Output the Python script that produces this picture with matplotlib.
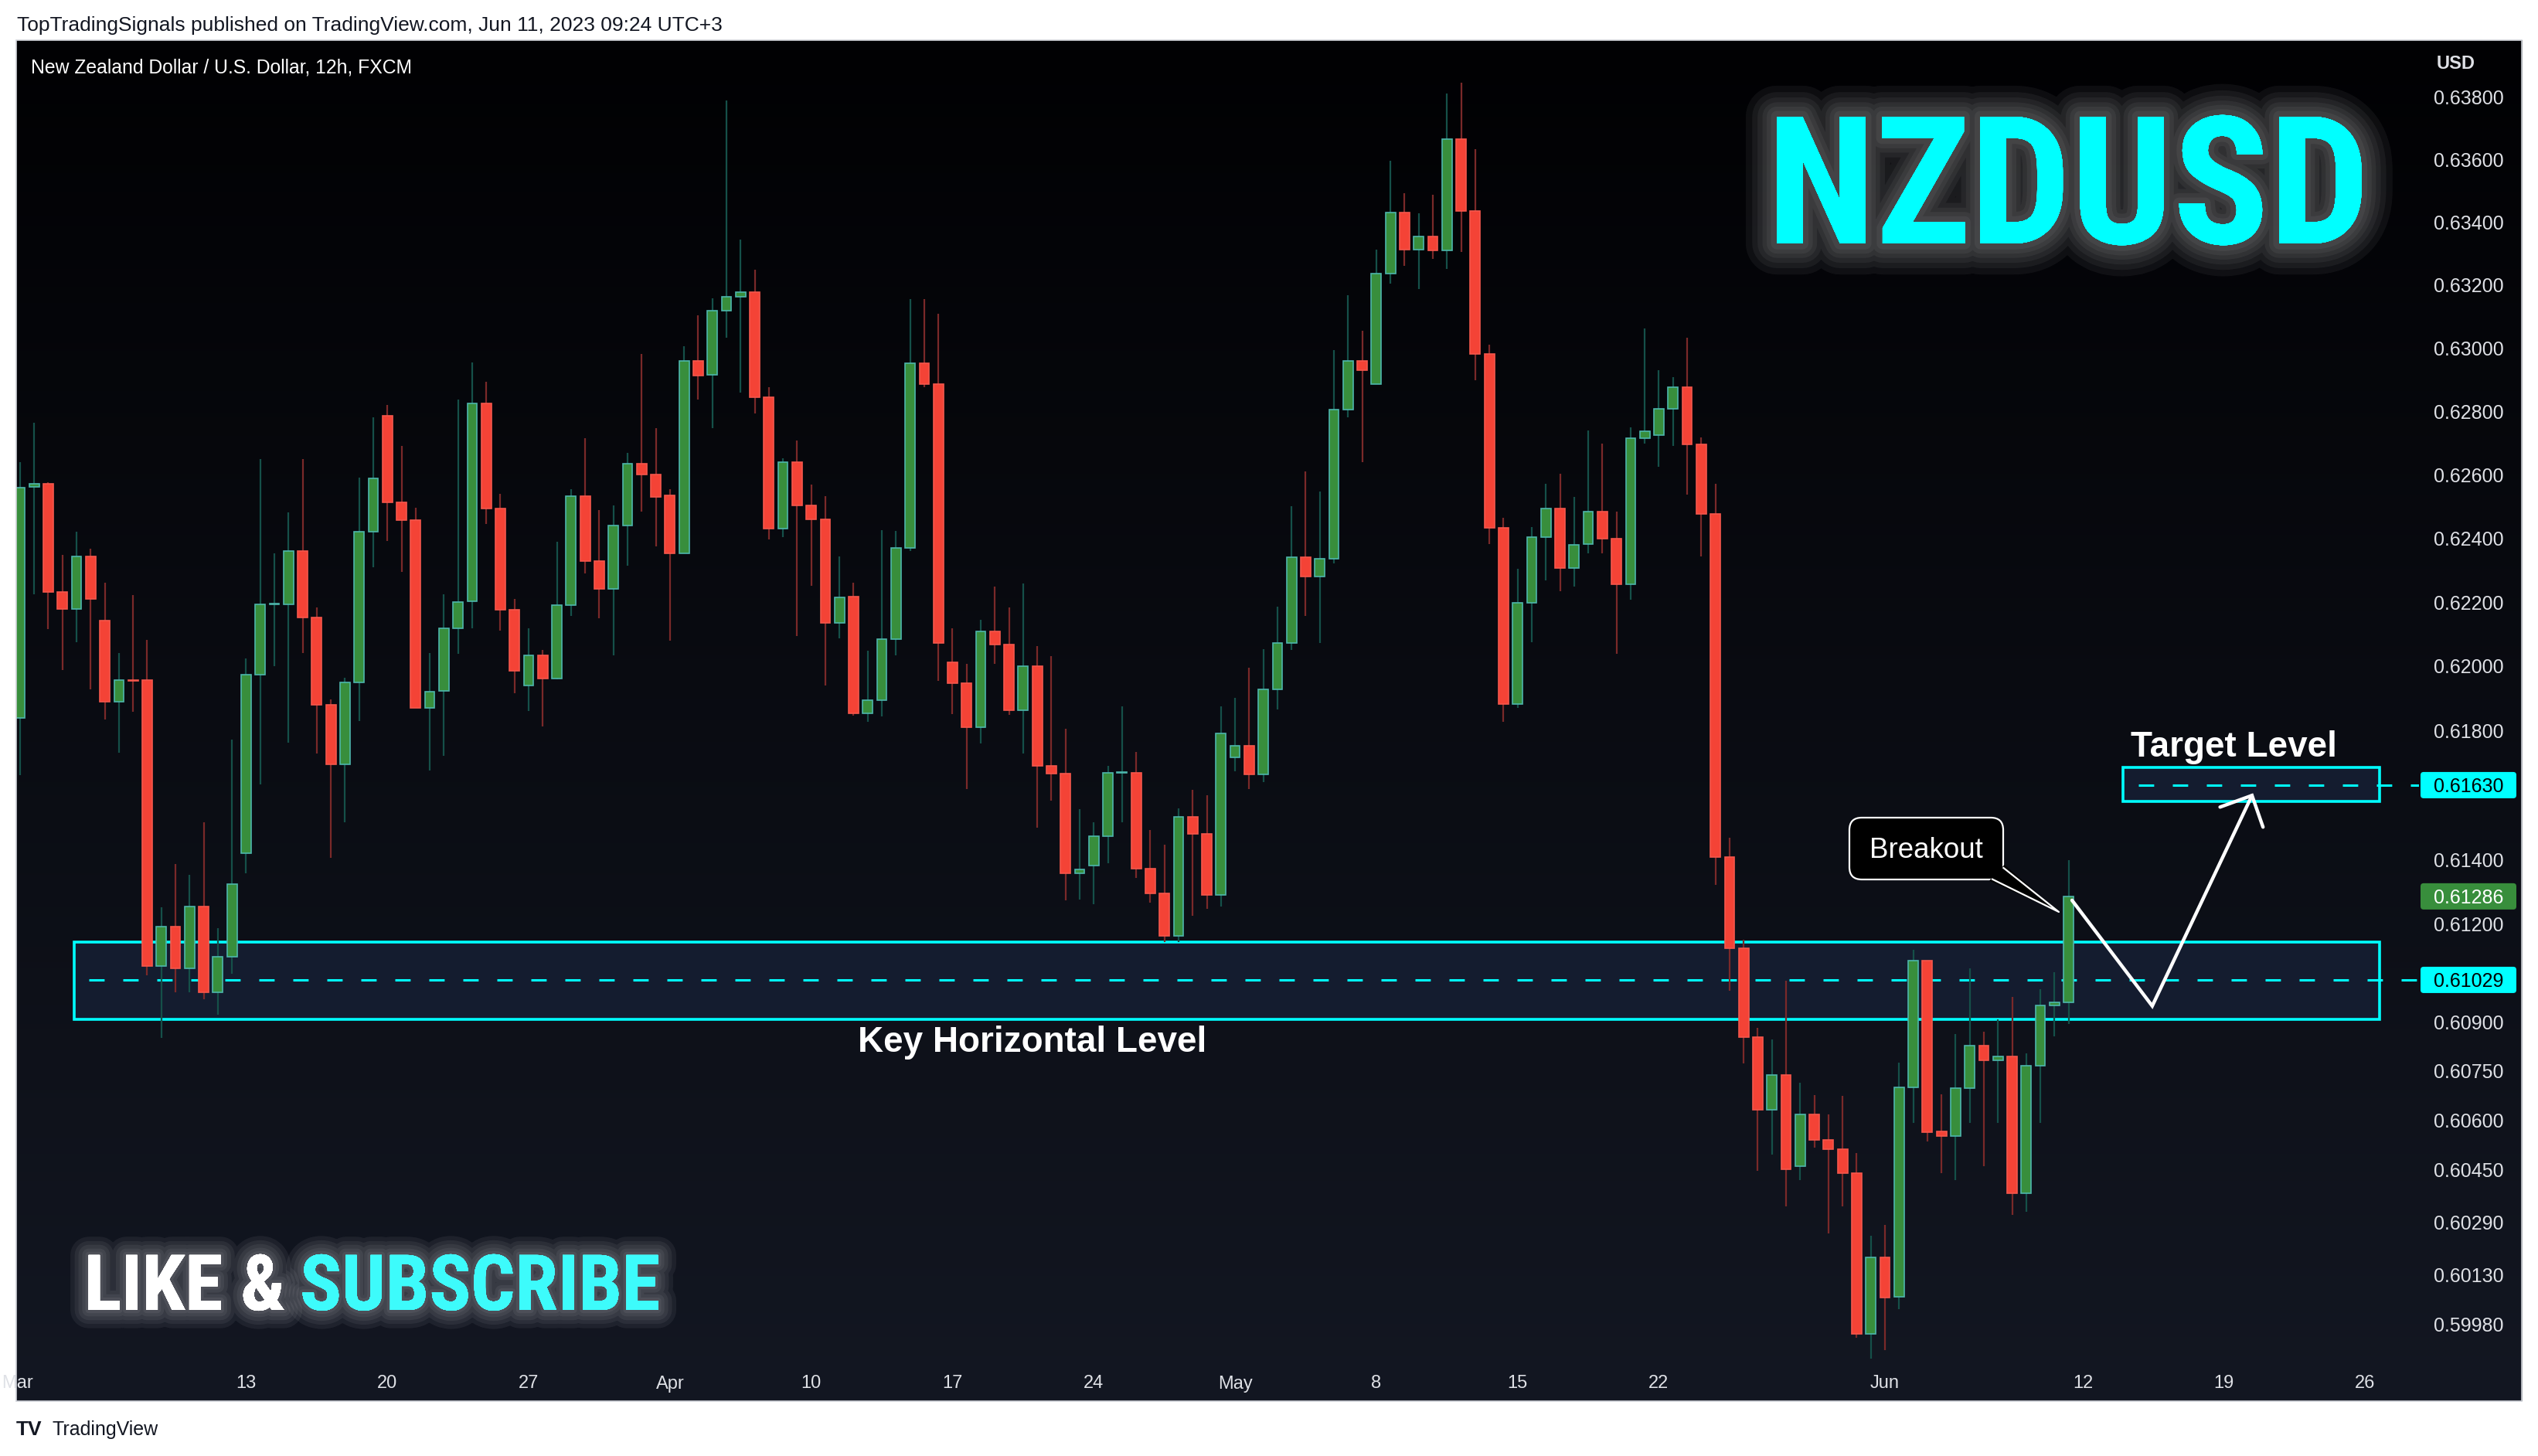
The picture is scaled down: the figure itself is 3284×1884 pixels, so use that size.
import numpy as np
import matplotlib
matplotlib.use("Agg")
import matplotlib.pyplot as plt
import matplotlib.patheffects as pe
from matplotlib import font_manager
from matplotlib.lines import Line2D
from matplotlib.patches import Rectangle, FancyBboxPatch, Polygon
from matplotlib.ticker import NullLocator
from matplotlib.transforms import IdentityTransform, blended_transform_factory

W, H = 3284, 1884

# NZDUSD 12h candles (bar 0 = Mon 13 Mar session, 10 bars per week)
first_bar = -16
opens = [0.61839, 0.62561, 0.62571, 0.62233, 0.62178, 0.62344, 0.62142, 0.61888, 0.61957, 0.61957,
         0.61072, 0.61193, 0.61065, 0.61254, 0.60992, 0.61100, 0.61419, 0.61973, 0.62192, 0.62194,
         0.62360, 0.62153, 0.61879, 0.61695, 0.61949, 0.62422, 0.62787, 0.62513, 0.62457, 0.61871,
         0.61922, 0.62119, 0.62204, 0.62826, 0.62493, 0.62176, 0.61939, 0.62034, 0.61961, 0.62191,
         0.62532, 0.62329, 0.62242, 0.62441, 0.62635, 0.62601, 0.62535, 0.62354, 0.62960, 0.62915,
         0.63119, 0.63162, 0.63179, 0.62845, 0.62430, 0.62639, 0.62503, 0.62459, 0.62136, 0.62218,
         0.61852, 0.61894, 0.62085, 0.62369, 0.62953, 0.62887, 0.62013, 0.61947, 0.61809, 0.62109,
         0.62067, 0.61863, 0.62000, 0.61690, 0.61666, 0.61357, 0.61382, 0.61471, 0.61669, 0.61669,
         0.61371, 0.61295, 0.61165, 0.61532, 0.61480, 0.61290, 0.61716, 0.61751, 0.61663, 0.61928,
         0.62072, 0.62340, 0.62280, 0.62336, 0.62806, 0.62959, 0.62886, 0.63236, 0.63432, 0.63312,
         0.63354, 0.63311, 0.63667, 0.63437, 0.62982, 0.62434, 0.61882, 0.62197, 0.62405, 0.62493,
         0.62306, 0.62381, 0.62485, 0.62399, 0.62255, 0.62715, 0.62726, 0.62808, 0.62876, 0.62696,
         0.62476, 0.61407, 0.61127, 0.60854, 0.60632, 0.60738, 0.60460, 0.60617, 0.60539, 0.60511,
         0.60439, 0.59952, 0.60183, 0.60064, 0.60700, 0.61089, 0.60566, 0.60551, 0.60697, 0.60827,
         0.60782, 0.60795, 0.60378, 0.60767, 0.60951, 0.60959]
highs = [0.62640, 0.62765, 0.62577, 0.62347, 0.62421, 0.62367, 0.62261, 0.62042, 0.62222, 0.62083,
         0.61253, 0.61386, 0.61353, 0.61516, 0.61189, 0.61772, 0.62024, 0.62650, 0.62352, 0.62481,
         0.62650, 0.62183, 0.61896, 0.61965, 0.62592, 0.62780, 0.62819, 0.62690, 0.62496, 0.62042,
         0.62225, 0.62837, 0.62954, 0.62893, 0.62540, 0.62211, 0.62119, 0.62050, 0.62389, 0.62555,
         0.62716, 0.62489, 0.62504, 0.62670, 0.62981, 0.62748, 0.62555, 0.63005, 0.63105, 0.63157,
         0.63790, 0.63346, 0.63249, 0.62876, 0.62653, 0.62709, 0.62570, 0.62533, 0.62343, 0.62262,
         0.62047, 0.62426, 0.62423, 0.63156, 0.63156, 0.63109, 0.62119, 0.62007, 0.62145, 0.62249,
         0.62183, 0.62259, 0.62062, 0.62031, 0.61804, 0.61556, 0.61514, 0.61690, 0.61874, 0.61734,
         0.61492, 0.61445, 0.61559, 0.61616, 0.61599, 0.61874, 0.61902, 0.61994, 0.62054, 0.62185,
         0.62501, 0.62610, 0.62547, 0.62993, 0.63167, 0.63056, 0.63314, 0.63596, 0.63494, 0.63428,
         0.63487, 0.63813, 0.63847, 0.63633, 0.63010, 0.62465, 0.62305, 0.62436, 0.62572, 0.62604,
         0.62530, 0.62739, 0.62697, 0.62485, 0.62750, 0.63062, 0.62930, 0.62908, 0.63032, 0.62718,
         0.62572, 0.61466, 0.61153, 0.60882, 0.60846, 0.61027, 0.60714, 0.60676, 0.60617, 0.60674,
         0.60500, 0.60249, 0.60281, 0.60776, 0.61121, 0.61089, 0.60678, 0.60862, 0.61065, 0.60870,
         0.60909, 0.60977, 0.60805, 0.61001, 0.61052, 0.61398]
lows = [0.61662, 0.62225, 0.62115, 0.61988, 0.62074, 0.61928, 0.61833, 0.61731, 0.61858, 0.61043,
        0.60850, 0.60990, 0.60990, 0.60970, 0.60923, 0.61047, 0.61358, 0.61631, 0.62000, 0.61761,
        0.62042, 0.61728, 0.61406, 0.61515, 0.61828, 0.62310, 0.62391, 0.62295, 0.61871, 0.61675,
        0.61720, 0.62038, 0.62117, 0.62444, 0.62111, 0.61916, 0.61861, 0.61811, 0.61958, 0.62156,
        0.62291, 0.62150, 0.62034, 0.62314, 0.62483, 0.62375, 0.62080, 0.62354, 0.62837, 0.62747,
        0.63033, 0.62859, 0.62793, 0.62396, 0.62404, 0.62094, 0.62251, 0.61939, 0.62087, 0.61846,
        0.61826, 0.61844, 0.62033, 0.62361, 0.62877, 0.61953, 0.61851, 0.61618, 0.61760, 0.62007,
        0.61848, 0.61728, 0.61499, 0.61581, 0.61273, 0.61277, 0.61261, 0.61389, 0.61514, 0.61343,
        0.61266, 0.61146, 0.61146, 0.61226, 0.61247, 0.61254, 0.61674, 0.61617, 0.61640, 0.61866,
        0.62050, 0.62158, 0.62072, 0.62322, 0.62780, 0.62640, 0.62886, 0.63206, 0.63261, 0.63188,
        0.63283, 0.63252, 0.63306, 0.62899, 0.62381, 0.61826, 0.61871, 0.62074, 0.62267, 0.62235,
        0.62249, 0.62352, 0.62352, 0.62038, 0.62207, 0.62698, 0.62625, 0.62691, 0.62537, 0.62344,
        0.61322, 0.60995, 0.60772, 0.60445, 0.60494, 0.60337, 0.60418, 0.60515, 0.60255, 0.60337,
        0.59939, 0.59878, 0.59903, 0.60026, 0.60592, 0.60535, 0.60439, 0.60418, 0.60592, 0.60460,
        0.60592, 0.60312, 0.60322, 0.60592, 0.60856, 0.60894]
closes = [0.62560, 0.62571, 0.62232, 0.62178, 0.62344, 0.62210, 0.61888, 0.61956, 0.61953, 0.61072,
          0.61193, 0.61065, 0.61254, 0.60992, 0.61100, 0.61323, 0.61973, 0.62192, 0.62196, 0.62360,
          0.62153, 0.61879, 0.61695, 0.61949, 0.62422, 0.62588, 0.62513, 0.62457, 0.61871, 0.61921,
          0.62118, 0.62201, 0.62826, 0.62493, 0.62176, 0.61985, 0.62033, 0.61961, 0.62190, 0.62532,
          0.62329, 0.62242, 0.62441, 0.62635, 0.62601, 0.62529, 0.62354, 0.62960, 0.62914, 0.63119,
          0.63162, 0.63179, 0.62845, 0.62430, 0.62639, 0.62503, 0.62459, 0.62136, 0.62216, 0.61852,
          0.61894, 0.62085, 0.62369, 0.62953, 0.62887, 0.62073, 0.61947, 0.61809, 0.62109, 0.62067,
          0.61863, 0.62000, 0.61690, 0.61665, 0.61357, 0.61368, 0.61471, 0.61669, 0.61671, 0.61371,
          0.61295, 0.61165, 0.61532, 0.61480, 0.61290, 0.61790, 0.61751, 0.61663, 0.61927, 0.62072,
          0.62340, 0.62280, 0.62336, 0.62806, 0.62959, 0.62931, 0.63236, 0.63432, 0.63312, 0.63354,
          0.63311, 0.63667, 0.63437, 0.62982, 0.62434, 0.61882, 0.62197, 0.62405, 0.62493, 0.62306,
          0.62380, 0.62485, 0.62399, 0.62255, 0.62715, 0.62738, 0.62808, 0.62876, 0.62696, 0.62476,
          0.61407, 0.61127, 0.60854, 0.60632, 0.60738, 0.60450, 0.60617, 0.60539, 0.60511, 0.60439,
          0.59952, 0.60183, 0.60062, 0.60700, 0.61089, 0.60564, 0.60551, 0.60697, 0.60827, 0.60782,
          0.60795, 0.60378, 0.60767, 0.60951, 0.60960, 0.61286]

week_ticks = [-16.2, 0, 10, 20, 30, 40, 50, 60, 70, 80, 90, 100, 116, 130, 140, 150]
week_labels = ["Mar", "13", "20", "27", "Apr", "10", "17", "24", "May", "8", "15", "22", "Jun", "12", "19", "26"]
price_ticks = [0.638, 0.636, 0.634, 0.632, 0.630, 0.628, 0.626, 0.624, 0.622, 0.620, 0.618,
               0.614, 0.612, 0.609, 0.6075, 0.606, 0.6045, 0.6029, 0.6013, 0.5998]

key_level = 0.61029
key_zone = (0.60909, 0.61146)
target_level = 0.61630
target_zone = (0.61580, 0.61685)
last_price = 0.61286
# projected path: retest of the zone then move to target
path_x = [129.24, 134.92, 141.98]
path_y = [0.61274, 0.60949, 0.61598]
head_x = [139.72, 141.98, 142.76]
head_y = [0.61562, 0.61598, 0.61500]

fonts = {f.name for f in font_manager.fontManager.ttflist}
narrow = None
for name in ["Liberation Sans Narrow", "Arial Narrow", "Roboto Condensed", "Open Sans Condensed"]:
    if name in fonts:
        narrow = name
        break
plt.rcParams["font.family"] = ["Liberation Sans", "DejaVu Sans"]

fig = plt.figure(figsize=(W / 100, H / 100), dpi=100, facecolor="white")

# dark gradient panel
bg = fig.add_axes([21 / W, (H - 1813) / H, 3242 / W, 1761 / H], zorder=-1)
t = np.linspace(0, 1, 512)[:, None, None]
top_c = np.array([1, 1, 3]) / 255
bot_c = np.array([19, 23, 34]) / 255
bg.imshow(top_c + t * (bot_c - top_c), aspect="auto", extent=[0, 1, 0, 1])
bg.set_axis_off()
fig.add_artist(Rectangle((21, H - 1813), 3242, 1761, transform=IdentityTransform(),
                         fill=False, ec="#cfd2d8", lw=1.2, zorder=5))

ax = fig.add_axes([21 / W, (H - 1760) / H, 3109 / W, 1708 / H])
ax.set_facecolor("none")
for s in ax.spines.values():
    s.set_visible(False)
ax.set_yscale("log")
ax.set_ylim(0.598724, 0.639838)
ax.set_xlim(-16.27, 153.8)

o = np.array(opens)
h = np.array(highs)
l = np.array(lows)
c = np.array(closes)
x = np.arange(first_bar, first_bar + len(o))
up = c >= o
lo = np.minimum(o, c)
hi = np.maximum(o, c)

# zones
ax.add_patch(Rectangle((-12.17, key_zone[0]), 150.99 + 12.17, key_zone[1] - key_zone[0],
                       fc="#141c2f", ec="#00ffff", lw=2.6, zorder=1.5))
ax.add_patch(Rectangle((132.87, target_zone[0]), 150.99 - 132.87, target_zone[1] - target_zone[0],
                       fc="#141c2f", ec="#00ffff", lw=2.6, zorder=1.5))
ax.plot([-11.12, 153.8], [key_level, key_level], color="#00ffff", lw=2.2, dashes=(6.5, 7.9), zorder=2)
ax.plot([133.97, 153.8], [target_level, target_level], color="#00ffff", lw=2.2, dashes=(6.5, 7.9), zorder=2)

# candles
ax.vlines(x[up], l[up], h[up], colors="#155049", lw=1.6, zorder=3)
ax.vlines(x[~up], l[~up], h[~up], colors="#7a2929", lw=1.6, zorder=3)
ax.bar(x[up], (hi - lo)[up], bottom=lo[up], width=0.7, color="#388e3c", edgecolor="#4db6ac", lw=1.2, zorder=4)
ax.bar(x[~up], (hi - lo)[~up], bottom=lo[~up], width=0.7, color="#f44336", edgecolor="#f5574c", lw=1.2, zorder=4)

ax.plot(path_x, path_y, color="white", lw=3.2, solid_joinstyle="miter", solid_capstyle="round", zorder=8)
ax.plot(head_x, head_y, color="white", lw=3.2, solid_joinstyle="miter", solid_capstyle="round", zorder=8)

ax.tick_params(axis="x", length=0, labelbottom=False)
ax.yaxis.tick_right()
ax.set_yticks(price_ticks, labels=[f"{v:.5f}" for v in price_ticks])
ax.yaxis.set_minor_locator(NullLocator())
ax.tick_params(axis="y", length=0, pad=13.7, labelsize=18, labelcolor="#dfe1e6")

clip = Rectangle((21, H - 1813), 3242, 1761, transform=IdentityTransform())
tx = blended_transform_factory(ax.transData, IdentityTransform())
for pos, lab in zip(week_ticks, week_labels):
    tl = ax.text(pos, H - 1796.5, lab, transform=tx, ha="center", va="baseline",
                 fontsize=17, color="#dfe1e6")
    tl.set_clip_path(clip)


def price_tag(price, face, fg):
    y = ax.transData.transform((0, price))[1]
    fig.add_artist(FancyBboxPatch((3132, y - 17), 124, 34, boxstyle="round,pad=0,rounding_size=4",
                                  fc=face, ec="none", transform=IdentityTransform(), zorder=6))
    fig.text(3194 / W, y / H, f"{price:.5f}", color=fg, fontsize=18, ha="center",
             va="center_baseline", zorder=7)


price_tag(target_level, "#00ffff", "black")
price_tag(last_price, "#388e3c", "white")
price_tag(key_level, "#00ffff", "black")

# Breakout callout
fig.add_artist(FancyBboxPatch((2393, H - 1138), 199, 80, boxstyle="round,pad=0,rounding_size=16",
                              fc="black", ec="white", lw=1.6, transform=IdentityTransform(), zorder=6))
fig.add_artist(Polygon([(2574, H - 1139.5), (2664, H - 1180), (2593.5, H - 1119)], closed=True,
                       fc="black", ec="none", transform=IdentityTransform(), zorder=6.5))
fig.add_artist(Line2D([2578, 2664, 2592.4], [H - 1137.7, H - 1180, H - 1123], color="white", lw=1.6,
                      transform=IdentityTransform(), zorder=6.6))
fig.text(2492 / W, 1 - 1110 / H, "Breakout", fontsize=26.5, color="white", ha="center", va="baseline", zorder=7)

fig.text(1336 / W, 1 - 1361 / H, "Key Horizontal Level", fontsize=33, weight="bold", color="white",
         ha="center", va="baseline")
fig.text(2890 / W, 1 - 979 / H, "Target Level", fontsize=33, weight="bold", color="white",
         ha="center", va="baseline")


def glow(widths, alpha):
    return [pe.withStroke(linewidth=w, foreground=(1, 1, 1, alpha)) for w in widths] + [pe.Normal()]


big_family = narrow if narrow else "Liberation Sans"
k_big = 1.0 if narrow else 0.84
k_sub = 1.0 if narrow else 0.78
fig.text((2286 if narrow else 2272) / W, 1 - 315 / H, "NZDUSD", fontsize=166 * k_big, family=big_family,
         weight="bold", color="#00ffff", va="baseline", path_effects=glow([58, 46, 36, 27, 19, 11], 0.05))
fig.text(109 / W, 1 - 1695 / H, "LIKE &", fontsize=72 * k_sub, family=big_family, weight="bold",
         color="white", va="baseline", path_effects=glow([34, 26, 19, 12, 6], 0.06))
fig.text(388 / W, 1 - 1695 / H, "SUBSCRIBE", fontsize=72 * k_sub, family=big_family, weight="bold",
         color="#3dfbfb", va="baseline", path_effects=glow([34, 26, 19, 12, 6], 0.06))

fig.text(22 / W, 1 - 40 / H, "TopTradingSignals published on TradingView.com, Jun 11, 2023 09:24 UTC+3",
         fontsize=19, color="#131722", va="baseline")
fig.text(39.5 / W, 1 - 94.3 / H, "New Zealand Dollar / U.S. Dollar, 12h, FXCM", fontsize=17.8,
         color="white", va="baseline")
fig.text(3153 / W, 1 - 88.8 / H, "USD", fontsize=17, weight="bold", color="#dfe1e6", va="baseline")
fig.text(21 / W, 1 - 1857 / H, "TV", fontsize=19, weight="heavy", color="#131722", va="baseline")
fig.text(67 / W, 1 - 1857 / H, "TradingView", fontsize=18, color="#131722", va="baseline")

fig.savefig("out.png", dpi=100, facecolor="white")
